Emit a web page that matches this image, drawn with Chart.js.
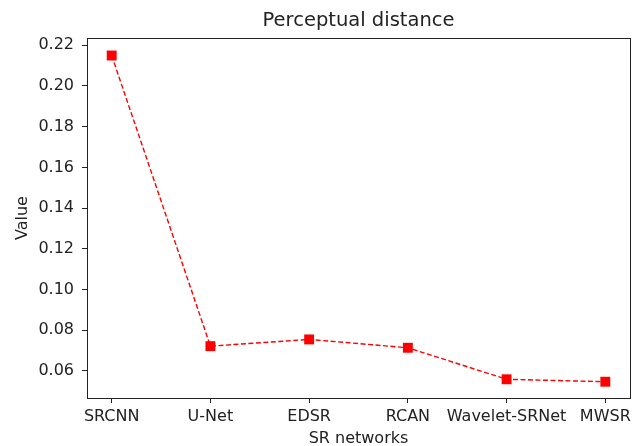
<!DOCTYPE html>
<html lang="en">
<head>
    <meta charset="UTF-8">
    <title>Perceptual distance</title>
    <script src="https://cdn.jsdelivr.net/npm/chart.js"></script>
    <style>
        body {
            margin: 0;
            background: #fff;
        }
        #wrap {
            width: 643px;
            height: 446px;
        }
    </style>
</head>
<body>
    <div id="wrap"><canvas id="chart"></canvas></div>

    <script>
        // SR networks on the x axis
        const networks = ['SRCNN', 'U-Net', 'EDSR', 'RCAN', 'Wavelet-SRNet', 'MWSR'];
        // Perceptual distance per network
        const distances = [0.215, 0.0721, 0.0754, 0.0713, 0.0558, 0.0546];
        // y tick labels
        const yTicks = [0.06, 0.08, 0.10, 0.12, 0.14, 0.16, 0.18, 0.20, 0.22];

        const fontFamily = '"DejaVu Sans", sans-serif';
        const axisColor = '#222';
        const textColor = '#222';

        // box around the plot area, and title centred over the axes (matplotlib style)
        const frame = {
            id: 'frame',
            afterLayout(chart) {
                if (chart.titleBlock) {
                    chart.titleBlock.left = chart.chartArea.left;
                    chart.titleBlock.right = chart.chartArea.right;
                }
            },
            afterDraw(chart) {
                const { ctx, chartArea: a } = chart;
                ctx.save();
                ctx.strokeStyle = axisColor;
                ctx.lineWidth = 1;
                ctx.strokeRect(a.left + 0.5, a.top + 0.5, a.right - a.left, a.bottom - a.top);
                ctx.restore();
            }
        };

        const ctx = document.getElementById('chart').getContext('2d');
        new Chart(ctx, {
            type: 'line',
            data: {
                datasets: [{
                    data: distances.map((v, i) => ({ x: i, y: v })),
                    borderColor: '#ff0000',
                    backgroundColor: '#ff0000',
                    borderWidth: 1.4,
                    borderDash: [5, 2.5],
                    pointStyle: 'rect',
                    pointRadius: 7,
                    pointBorderWidth: 0,
                    pointBackgroundColor: '#ff0000',
                    tension: 0,
                    fill: false
                }]
            },
            options: {
                responsive: true,
                maintainAspectRatio: false,
                animation: false,
                layout: { padding: { left: 0, right: 13, top: 0, bottom: 0 } },
                plugins: {
                    legend: { display: false },
                    tooltip: { enabled: false },
                    title: {
                        display: true,
                        text: 'Perceptual distance',
                        color: textColor,
                        font: { family: fontFamily, size: 19.5, weight: 'normal', lineHeight: 1.2 },
                        padding: { top: 9, bottom: 5.6 }
                    }
                },
                scales: {
                    x: {
                        type: 'linear',
                        min: -0.25,
                        max: 5.25,
                        afterBuildTicks: axis => { axis.ticks = networks.map((n, i) => ({ value: i })); },
                        afterFit: scale => { scale.height = 48; },
                        ticks: {
                            callback: v => networks[v],
                            color: textColor,
                            font: { family: fontFamily, size: 16 },
                            padding: 4,
                            maxRotation: 0,
                            autoSkip: false
                        },
                        grid: {
                            drawOnChartArea: false,
                            drawTicks: true,
                            tickLength: 5,
                            tickColor: axisColor
                        },
                        border: { color: axisColor },
                        title: {
                            display: true,
                            text: 'SR networks',
                            color: textColor,
                            font: { family: fontFamily, size: 16 },
                            padding: { top: 0, bottom: -2 }
                        }
                    },
                    y: {
                        min: 0.0466,
                        max: 0.2236,
                        afterBuildTicks: axis => { axis.ticks = yTicks.map(v => ({ value: v })); },
                        afterFit: scale => { scale.width = 87; },
                        ticks: {
                            callback: v => v.toFixed(2),
                            color: textColor,
                            font: { family: fontFamily, size: 16 },
                            padding: 8
                        },
                        grid: {
                            drawOnChartArea: false,
                            drawTicks: true,
                            tickLength: 5,
                            tickColor: axisColor
                        },
                        border: { color: axisColor },
                        title: {
                            display: true,
                            text: 'Value',
                            color: textColor,
                            font: { family: fontFamily, size: 16 },
                            padding: { top: 13, bottom: 0 }
                        }
                    }
                }
            },
            plugins: [frame]
        });
    </script>
</body>
</html>
